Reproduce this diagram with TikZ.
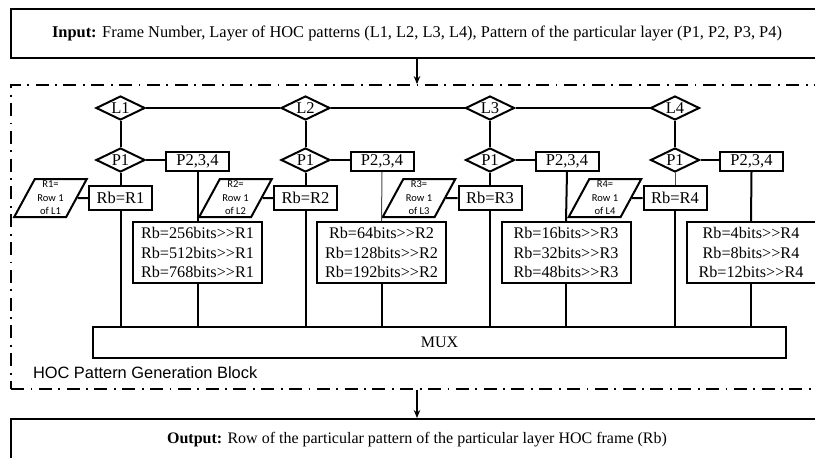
\documentclass[tikz,border=0pt]{standalone}
\usepackage{fontspec}
\setmainfont{Liberation Serif}
\newfontfamily\calib{Carlito}
\newfontfamily\arial{Liberation Sans}
\usetikzlibrary{shapes.geometric,arrows.meta,calc}
% right shift operator, kept as two separate glyphs
\newcommand{\rsh}{>{}>}
\begin{document}
\begin{tikzpicture}[x=1pt,y=-1pt,
  line width=2pt,
  every node/.style={inner sep=0pt},
  bigbox/.style={draw,rectangle,minimum width=812pt},
  frame/.style={draw,rectangle,minimum width=812pt,minimum height=304pt,line width=1.8pt,
    dash pattern=on 13pt off 6.5pt on 1.8pt off 6.5pt},
  layer/.style={draw,diamond,aspect=2,minimum width=49pt,minimum height=24pt,
    font=\fontsize{16.5}{16}\selectfont},
  pbox/.style={draw,rectangle,minimum width=63pt,minimum height=19pt,
    font=\fontsize{16.5}{16}\selectfont},
  rbox/.style={draw,rectangle,minimum width=63pt,minimum height=24pt,
    font=\fontsize{16.5}{16}\selectfont},
  rowpar/.style={draw,trapezium,trapezium left angle=63,trapezium right angle=117,
    trapezium stretches=true,minimum width=73pt,minimum height=38pt,align=center,
    font=\calib\fontsize{10.5}{13.5}\selectfont},
  shiftlist/.style={draw,rectangle,minimum width=129pt,minimum height=61pt,align=center,
    font=\fontsize{16.2}{19.5}\selectfont},
  link/.style={line width=2pt},
  faint/.style={line width=1pt,black!70},
  flow/.style={line width=1.5pt,-{Stealth[length=8pt,width=6.5pt]}}
]
\useasboundingbox (0,0) rectangle (815,458);

% input and output boxes, dashed generation block
\node[bigbox,minimum height=49pt,font=\fontsize{16.4}{16}\selectfont] (input) at (417,33.5)
  {\textbf{Input:} Frame Number, Layer of HOC patterns (L1, L2, L3, L4), Pattern of the particular layer (P1, P2, P3, P4)};
\node[frame] (block) at (417,237) {};
\node[anchor=west,font=\arial\fontsize{16.4}{16}\selectfont] (blocklabel) at (32,373) {HOC Pattern Generation Block};
\node[bigbox,anchor=north,text height=24pt,text depth=28pt,font=\fontsize{16}{16}\selectfont] (output) at (417,418)
  {\textbf{Output:} Row of the particular pattern of the particular layer HOC frame (Rb)};

\draw[flow] (input.south) -- (block.north);
\draw[flow] (block.south) -- (output.north);

% multiplexer
\node[draw,rectangle,minimum width=693pt,minimum height=31pt,font=\fontsize{16}{16}\selectfont] (mux) at (439.5,342.5) {MUX};

% layer L1
\node[layer] (L1) at (120.5,108) {L1};
\node[layer] (P1a) at (120.5,160) {P1};
\node[pbox] (Pa) at (197.5,161.5) {P2,3,4};
\node[rbox] (Rba) at (120.5,198) {Rb=R1};
\node[rowpar] (Ra) at (50.5,198) {R1=\\Row 1\\of L1};
\node[shiftlist] (Sa) at (197.5,252.5) {Rb=256bits\rsh R1\\Rb=512bits\rsh R1\\Rb=768bits\rsh R1};

% layer L2
\node[layer] (L2) at (305.5,108) {L2};
\node[layer] (P1b) at (305.5,160) {P1};
\node[pbox] (Pb) at (382,161.5) {P2,3,4};
\node[rbox] (Rbb) at (305.5,198) {Rb=R2};
\node[rowpar] (Rb) at (235.5,198) {R2=\\Row 1\\of L2};
\node[shiftlist] (Sb) at (381.5,252.5) {Rb=64bits\rsh R2\\Rb=128bits\rsh R2\\Rb=192bits\rsh R2};

% layer L3
\node[layer] (L3) at (490,108) {L3};
\node[layer] (P1c) at (490,160) {P1};
\node[pbox] (Pc) at (567,161.5) {P2,3,4};
\node[rbox] (Rbc) at (490,198) {Rb=R3};
\node[rowpar] (Rc) at (419,198) {R3=\\Row 1\\of L3};
\node[shiftlist] (Sc) at (566,252.5) {Rb=16bits\rsh R3\\Rb=32bits\rsh R3\\Rb=48bits\rsh R3};

% layer L4
\node[layer] (L4) at (675,108) {L4};
\node[layer] (P1d) at (675,160) {P1};
\node[pbox] (Pd) at (751.5,161.5) {P2,3,4};
\node[rbox] (Rbd) at (675,198) {Rb=R4};
\node[rowpar] (Rd) at (605,198) {R4=\\Row 1\\of L4};
\node[shiftlist] (Sd) at (751,252.5) {Rb=4bits\rsh R4\\Rb=8bits\rsh R4\\Rb=12bits\rsh R4};

% layer chain
\draw[link] (L1.east) -- (L2.west);
\draw[link] (L2.east) -- (L3.west);
\draw[link] (L3.east) -- (L4.west);

% per-layer wiring
\foreach \l/\p/\q/\rb/\r/\s/\pl/\sl in {L1/P1a/Pa/Rba/Ra/Sa/link/link,
                                      L2/P1b/Pb/Rbb/Rb/Sb/link/faint,
                                      L3/P1c/Pc/Rbc/Rc/Sc/link/link,
                                      L4/P1d/Pd/Rbd/Rd/Sd/faint/link} {
  \draw[link] (\l.south) -- (\p.north);
  \draw[link] (\p.east) -- (\p.east -| \q.west);
  \draw[\pl] (\p.south) -- (\rb.north);
  \draw[link] (\r.east) -- (\rb.west);
  \draw[\sl] (\q.south) -- (\s.north);
  \draw[link] (\rb.south) -- (\rb.south |- mux.north);
  \draw[link] (\s.south) -- (\s.south |- mux.north);
}
\end{tikzpicture}
\end{document}
